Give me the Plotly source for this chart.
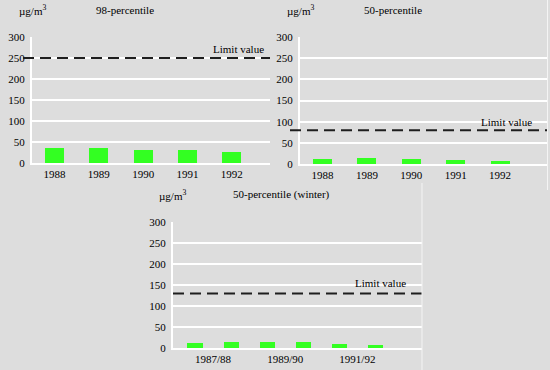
import plotly.graph_objects as go

# ---- data ----
years = ["1988", "1989", "1990", "1991", "1992"]
p98_values = [36, 36, 31, 31, 26]
p50_values = [12, 14, 11, 9, 7]
winters = ["1987/88", "1988/89", "1989/90", "1990/91", "1991/92", "1992/93"]
winter_values = [11, 14, 14, 14, 10, 6]
winter_ticks = ["1987/88", "1989/90", "1991/92"]
limit_p98 = 250
limit_p50 = 80
limit_winter = 130
y_ticks = [0, 50, 100, 150, 200, 250, 300]

W, H = 550, 370
BG = "#dddddd"
GREEN = "#33ff22"
FONT = "Liberation Serif, Times New Roman, DejaVu Serif, serif"


def px(x):
    return x / W


def py(y):
    return 1 - y / H


fig = go.Figure()

fig.add_trace(go.Bar(x=list(range(len(years))), y=p98_values, marker_color=GREEN,
                     marker_line_width=0, width=0.43, xaxis="x", yaxis="y"))
fig.add_trace(go.Bar(x=list(range(len(years))), y=p50_values, marker_color=GREEN,
                     marker_line_width=0, width=0.43, xaxis="x2", yaxis="y2"))
fig.add_trace(go.Bar(x=list(range(len(winters))), y=winter_values, marker_color=GREEN,
                     marker_line_width=0, width=0.42, xaxis="x3", yaxis="y3"))

tickfont = dict(family=FONT, size=11, color="black")


def yax(domain, anchor):
    return dict(domain=domain, range=[0, 300], tickvals=y_ticks, showgrid=True,
                gridcolor="white", gridwidth=1.5, showline=True, linecolor="white",
                linewidth=2, zeroline=False, tickfont=tickfont, ticks="",
                ticklabelstandoff=3, fixedrange=True, automargin=False, anchor=anchor)


def xax(domain, rng, anchor, tickvals, ticktext):
    return dict(domain=domain, range=rng, anchor=anchor, tickvals=tickvals,
                ticktext=ticktext, showgrid=False, showline=True, linecolor="white",
                linewidth=2, zeroline=False, tickfont=tickfont, ticks="",
                ticklabelstandoff=0, fixedrange=True, automargin=False)


fig.update_layout(
    width=W, height=H, autosize=False,
    margin=dict(l=0, r=0, t=0, b=0, pad=0, autoexpand=False),
    paper_bgcolor=BG, plot_bgcolor=BG,
    showlegend=False,
    bargap=0,
    font=dict(family=FONT, size=11, color="black"),
    xaxis=xax([px(32), px(270)], [-0.507, 4.86], "y",
              list(range(len(years))), years),
    yaxis=yax([py(163), py(37)], "x"),
    xaxis2=xax([px(300), px(548)], [-0.507, 5.08], "y2",
               list(range(len(years))), years),
    yaxis2=yax([py(164), py(37)], "x2"),
    xaxis3=xax([px(173), px(422)], [-0.61, 6.29], "y3",
               [winters.index(t) + 0.5 for t in winter_ticks], winter_ticks),
    yaxis3=yax([py(348), py(222)], "x3"),
)

dash = dict(color="#1e1e1e", width=2, dash="11px,6px")
fig.add_shape(type="line", xref="paper", yref="y", x0=px(23), x1=px(270),
              y0=limit_p98, y1=limit_p98, line=dash)
fig.add_shape(type="line", xref="paper", yref="y2", x0=px(290), x1=px(548),
              y0=limit_p50, y1=limit_p50, line=dash)
fig.add_shape(type="line", xref="paper", yref="y3", x0=px(173), x1=px(422),
              y0=limit_winter, y1=limit_winter, line=dash)

# faint frame lines
fig.add_shape(type="line", xref="paper", yref="paper", x0=px(422), x1=px(422),
              y0=py(183), y1=py(370), line=dict(color="#f4f4f4", width=1))
fig.add_shape(type="line", xref="paper", yref="paper", x0=px(547.5), x1=px(547.5),
              y0=py(0), y1=py(190), line=dict(color="#f4f4f4", width=1))

afont = dict(family=FONT, size=11, color="black")


def note(x, y, text, xanchor="left"):
    fig.add_annotation(x=px(x), y=py(y), xref="paper", yref="paper", text=text,
                       showarrow=False, xanchor=xanchor, yanchor="middle", font=afont)


note(17, 10, "µg/m<sup>3</sup>")
note(94, 10, "98-percentile")
note(285, 10, "µg/m<sup>3</sup>")
note(362, 10, "50-percentile")
note(157, 195, "µg/m<sup>3</sup>")
note(231, 195, "50-percentile (winter)")
note(266, 49, "Limit value", "right")
note(534, 122, "Limit value", "right")
note(408, 283, "Limit value", "right")

fig.write_html(
    "out.html",
    config={"displayModeBar": False},
    post_script="document.body.style.margin='0';document.body.style.overflow='hidden';",
)
